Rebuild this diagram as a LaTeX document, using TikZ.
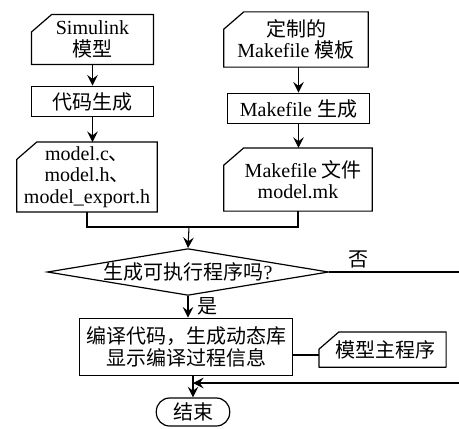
\documentclass[tikz,border=0pt]{standalone}
\usepackage{fontspec}
\setmainfont{Liberation Serif}
\newfontfamily\cjk{Noto Sans CJK SC}
\newcommand{\zh}[1]{{\cjk #1}}
\usetikzlibrary{shapes.geometric,arrows.meta}

\begin{document}
\begin{tikzpicture}[x=0.75pt,y=-0.75pt,font=\fontsize{15pt}{16pt}\selectfont,>={Stealth[length=8pt,width=8pt,inset=3pt]},
    card/.style={align=center,inner sep=1pt},
    proc/.style={draw,line width=0.9pt,align=center,inner sep=1pt},
    dec/.style={draw,line width=0.9pt,diamond,aspect=6,inner sep=0pt},
    term/.style={draw,line width=0.9pt,rounded corners=10pt,inner sep=1pt},
    flow/.style={->,line width=0.8pt},
    lnk/.style={line width=0.8pt},
    lbl/.style={inner sep=1pt}]
  \useasboundingbox (0,0) rectangle (459,428);

  % left column: model side
  \node[card,minimum width=91pt,minimum height=37pt] (sim) at (92.5,39.5) {Simulink\\\zh{模型}};
  \node[proc,minimum width=91pt,minimum height=23pt] (gen) at (92.5,101.5) {\zh{代码生成}};
  \node[card,minimum width=105pt,minimum height=52pt] (src) at (87,177) {model.c\zh{、}\\model.h\zh{、}\\model\_export.h};

  % right column: makefile side
  \node[card,minimum width=108pt,minimum height=41pt] (tpl) at (296,39.5) {\zh{定制的}\\Makefile \zh{模板}};
  \node[proc,minimum width=107pt,minimum height=23pt] (mkgen) at (298.5,108.5) {Makefile \zh{生成}};
  \node[card,minimum width=111pt,minimum height=47pt] (mkf) at (298,179.5) {\hspace*{8pt}Makefile \zh{文件}\\model.mk};

  % decision, compile, end
  \node[dec,minimum width=211pt,minimum height=35pt] (ask) at (188,272) {\zh{生成可执行程序吗}?};
  \node[proc,line width=1.1pt,minimum width=160pt,minimum height=43pt] (comp) at (186,347) {\zh{编译代码，生成动态库}\\\zh{显示编译过程信息}};
  \node[card,minimum width=95pt,minimum height=26pt] (mainp) at (382.5,349.5) {\hspace*{4pt}\zh{模型主程序}};
  \node[term,minimum width=55pt,minimum height=21pt] (fin) at (193,412) {\zh{结束}};

  % card outlines with the cut corner
  \foreach \n in {sim,src,tpl,mkf,mainp}
    \draw[line width=0.9pt] (\n.south west) -- (\n.south east) -- (\n.north east)
      -- ([xshift=15pt]\n.north west) -- ([yshift=-13pt]\n.north west) -- cycle;
  \draw[line width=0.9pt] (mainp.south west) -- (mainp.south east);

  % straight flow
  \draw[flow] (sim) -- (gen);
  \draw[flow] (gen) -- (gen |- src.north);
  \draw[flow] (tpl.south -| mkgen.north) -- (mkgen);
  \draw[flow] (mkgen) -- (mkgen |- mkf.north);

  % merge of both columns
  \coordinate (mg) at (189,227);
  \draw[lnk] (src.south) |- (mg);
  \draw[lnk] (mkf.south) |- (mg);
  \draw[flow] (mg) -- (ask.north);

  \draw[flow] (ask.south) -- (ask.south |- comp.north) node[lbl,midway,right=6pt] {\zh{是}};
  \draw[lnk,line width=1.1pt] ([yshift=-4pt]mainp.west) -- ([yshift=-4pt]mainp.west -| comp.east);
  \draw[flow] (comp.south -| fin.north) -- (fin.north);

  % "no" branch runs out to the right and comes back
  \coordinate (r1) at (470,272);
  \coordinate (r2) at (470,383);
  \draw[flow] (ask.east) -- (r1) -- (r2) -- (r2 -| fin.north);
  \node[lbl] (no) at (358,259) {\zh{否}};
\end{tikzpicture}
\end{document}
